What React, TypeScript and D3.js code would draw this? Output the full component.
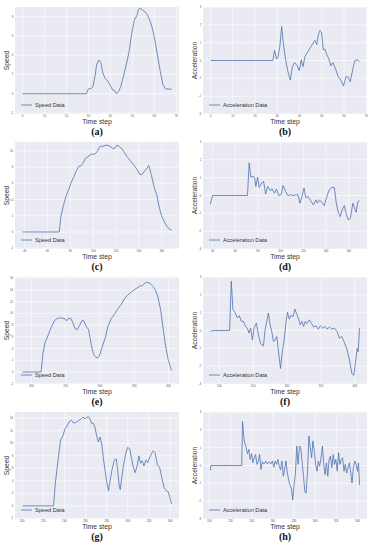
import React from "react";
import * as d3 from "d3";

// ---------- data ----------
const aTime = [0, 29, 30, 31.4, 32, 33, 33.7, 34.7, 35.7, 36.4, 37.5, 39, 40, 41, 42, 42.8, 43.7, 44.7, 45.9, 47.4, 48.6, 49.7, 50.8, 52, 52.7, 53.5, 54.7, 55.8, 57, 58, 59.3, 60.5, 61.6, 62.7, 63.9, 65, 66.5, 67.8];
const aSpeed = [0, 0, 0.5, 0.58, 0.75, 1.8, 3.0, 3.5, 3.2, 2.3, 1.6, 1.27, 0.82, 0.4, 0.34, 0, 0.24, 0.75, 1.8, 3.2, 4.5, 6.25, 7.6, 8.1, 8.7, 8.9, 8.66, 8.5, 8.1, 7.6, 6.6, 5.2, 3.7, 2.3, 0.93, 0.52, 0.48, 0.48];

const bTime = [0, 28, 28.8, 29.7, 30.4, 31.2, 32, 32.7, 33.8, 34.8, 35.9, 36.8, 37.8, 39, 39.9, 40.8, 41.6, 42.5, 43.8, 45.3, 46.9, 47.8, 48.5, 49.2, 49.9, 50.7, 51.4, 52.3, 53.1, 54.1, 55, 56.1, 57.4, 58.6, 59.8, 60.9, 61.9, 62.8, 63.9, 64.9, 66.1, 67];
const bAccel = [0, 0, 0.57, 0.08, 0.23, 0.8, 1.9, 1.0, 0.04, -0.62, -1.1, -0.34, -0.11, -0.3, -0.57, 0.04, -0.34, 0.23, 0.5, 0.8, 1.13, 0.89, 1.45, 1.68, 1.6, 0.6, 0.64, 0.32, 0.13, -0.3, -0.11, -0.43, -0.9, -1.1, -1.43, -0.9, -0.94, -1.19, -0.53, 0, 0.04, -0.06];

const cTime = [38, 70.2, 71.7, 73.8, 76.1, 78.5, 80.6, 82.7, 85, 87.4, 89.5, 91, 93.3, 95.4, 98.4, 101.3, 103.4, 105.8, 108.7, 111.7, 114.7, 117, 119.1, 120.6, 122.7, 125, 127.1, 129.5, 132.4, 135.4, 138.4, 140.7, 142.8, 144.9, 147.3, 148.7, 150.8, 153.2, 155.6, 157.6, 159.7, 162.1, 165, 168.6];
const cSpeed = [0, 0, 1.93, 3.2, 4.4, 5.2, 6.1, 6.7, 7.5, 8.1, 8.2, 8.5, 9.1, 9.3, 9.6, 9.6, 9.9, 10.55, 10.6, 10.7, 10.6, 10.3, 10.35, 10.7, 10.55, 10.3, 9.86, 9.3, 8.8, 8.3, 7.7, 7.1, 7.1, 7.5, 7.9, 8.2, 7.1, 5.6, 4.6, 3.2, 2.05, 1.3, 0.57, 0.2];

const dTime = [38.2, 40, 70.8, 72.3, 73.8, 75.6, 77, 78.2, 79.7, 81.2, 83.3, 85, 86.8, 88.6, 91, 92.4, 94.5, 96.3, 98.4, 100.4, 102.2, 104.3, 106.4, 108.7, 111.1, 113.2, 115.3, 117, 118.8, 120.6, 122.1, 124.1, 126.5, 128.9, 131, 132.4, 134.2, 136.3, 138.4, 140.7, 142.8, 144.9, 147.3, 149, 150.8, 152.6, 154.1, 156.1, 157.9, 159.7, 161.5, 163.6, 165, 166.5, 168, 169.5];
const dAccel = [-0.49, 0, 0, 1.83, 1.02, 1.08, 1.02, 0.51, 1.02, 0.45, 0.7, 0.79, 0.08, 0.51, 0.26, 0.38, 0.13, 0.36, 0, 0.04, 0.57, 0.23, 0, 0.04, 0, 0.04, 0.04, -0.43, -0.06, 0.42, -0.11, -0.06, -0.3, -0.53, -0.25, -0.43, -0.25, -0.38, -0.57, -0.06, 0.32, 0.45, 0.45, -0.43, -0.94, -1.19, -0.81, -0.57, -1.06, -1.38, -1.25, -0.43, -0.68, -0.94, -0.34, -0.3];

const eTime = [187.1, 214.3, 216.8, 220.2, 224.2, 229.1, 234, 239, 243.9, 248.8, 251.3, 253.8, 257.2, 260.2, 263.7, 267.1, 270.1, 273.6, 276, 279.5, 283.5, 285.9, 288.4, 291.8, 295.8, 299.2, 303.2, 308.1, 311.6, 316.5, 321.5, 326.4, 331.4, 336.3, 341.2, 347.7, 352.6, 357.5, 362.5, 366.4, 369.9, 373.3, 377.3, 381.2, 384.7, 388.6, 392.1, 395.6, 399.5, 402, 404.4];
const eSpeed = [0, 0, 3.1, 5.1, 6.2, 7.65, 8.8, 9.2, 9.2, 9.1, 8.7, 9.1, 9.2, 8.5, 7.4, 7.2, 7.9, 8.7, 8.8, 7.9, 7.2, 5.7, 4.0, 2.8, 2.4, 2.7, 4.25, 5.95, 7.8, 9.1, 9.9, 10.8, 11.6, 12.6, 13.2, 13.8, 14.2, 14.6, 14.8, 15.2, 15.3, 15.1, 14.6, 13.9, 12.7, 10.5, 7.4, 4.5, 2.1, 1.1, 0.3];

const fTime = [187.1, 191, 215.3, 217.8, 220.2, 223.2, 226.7, 229.6, 232.6, 235.6, 239, 241.5, 244, 246.4, 248.9, 251.4, 254.8, 257.8, 261.2, 265.2, 267.6, 270.1, 272.6, 275, 277.5, 280, 282.5, 284.9, 287.4, 290.4, 293.3, 295.8, 298.3, 300.7, 303.2, 305.7, 309.1, 311.6, 314.6, 317.1, 319.5, 322, 324.4, 326.9, 329.4, 332.8, 336.3, 339.3, 342.7, 346.2, 349.1, 352.6, 356, 359, 362.5, 365.9, 369.9, 373.8, 377.3, 380.7, 384.7, 388.6, 392.1, 395.6, 398.5, 401, 403.5, 404.9, 406.9];
const fAccel = [-0.06, 0, 0, 2.77, 1.17, 1.02, 0.7, 0.83, 0.51, 0.51, 0.23, 0.13, -0.15, 0.13, -0.53, 0.13, 0.42, -0.25, -0.75, -0.87, 0.04, 0.51, 0.98, 0.32, -0.06, -0.62, -0.53, -0.34, -1.19, -2.13, -1.09, -0.53, 0.42, 1.02, 0.64, 0.83, 0.79, 1.2, 0.89, 0.64, 0.32, 0.51, 0.23, 0.51, 0.38, 0.6, 0.38, 0.19, 0.26, 0.08, 0.26, 0.13, 0.23, 0.08, 0.19, 0.08, 0.13, -0.06, -0.43, -0.34, -0.68, -1.09, -1.66, -2.42, -2.51, -1.75, -1.0, -1.19, 0.13];

const gTime = [200.3, 229.7, 231.3, 232.9, 234.8, 236.4, 238.6, 240.5, 242.7, 244.3, 246.6, 248.8, 251.4, 253.9, 256.1, 257.7, 259.3, 260.9, 262.5, 264.1, 265.7, 267.3, 268.9, 270.5, 272.1, 273.7, 275.3, 276.9, 278.5, 280.1, 281.7, 282.6, 284.8, 287.1, 289, 290.3, 291.9, 292.8, 294.4, 296, 297.9, 299.8, 301.8, 303.3, 304.9, 306.9, 308.8, 310.4, 312, 313.6, 315.2, 317.1, 318.7, 320.6, 322.2, 324.1, 325.7, 327.9, 330.1, 332.1, 334.3, 336.5, 338.4, 340, 341.3];
const gSpeed = [0, 0, 3.4, 5.8, 8.5, 10.5, 11.2, 12.3, 12.8, 13.4, 13.7, 13.2, 13.4, 13.7, 13.9, 14.2, 13.9, 14.1, 14.3, 13.9, 13.2, 13.2, 12.5, 11.2, 10.2, 11.0, 9.9, 7.5, 5.6, 3.7, 2.4, 3.4, 5.6, 7.3, 7.5, 5.8, 3.1, 2.6, 4.8, 6.6, 8.3, 9.35, 9.1, 7.7, 6.4, 5.3, 6.4, 8.0, 6.8, 7.2, 6.4, 7.3, 6.9, 7.7, 8.3, 8.8, 8.5, 6.6, 6.1, 4.5, 2.9, 2.4, 2.2, 1.2, 0.3];

const hTime = [201, 201.3, 230.6, 231.3, 232.9, 234.4, 236, 237.3, 238.6, 239.9, 241.1, 242.4, 243.7, 245, 246.3, 247.5, 248.8, 250.1, 251.7, 253.3, 254.9, 256.5, 258.1, 259.6, 260.9, 262.2, 263.5, 264.8, 266, 267.3, 268.6, 269.9, 271.1, 272.4, 273.7, 275, 276.2, 277.5, 278.8, 280.1, 281.3, 282.6, 283.9, 285.2, 286.4, 287.7, 289, 290.3, 291.5, 292.8, 294.1, 295.4, 296.7, 297.9, 299.2, 300.5, 301.8, 303, 304.3, 305.6, 306.9, 308.1, 309.4, 310.7, 312, 313.2, 314.5, 315.8, 317.1, 318.3, 319.6, 320.9, 322.2, 323.4, 324.7, 326, 327.3, 328.5, 329.8, 331.1, 332.4, 333.7, 334.9, 336.2, 337.5, 338.8, 340.1, 341, 342];
const hAccel = [-0.28, 0, 0, 2.47, 1.38, 1.09, 0.66, 0.9, 0.34, 0.66, 0.15, 0.43, 0.62, 0.06, 0.21, 0.62, -0.23, 0.21, 0.09, 0.25, 0.09, 0.21, 0.09, 0.25, -0.09, 0.25, 0.06, 0.34, -0.04, -0.23, 0.25, -0.6, -0.23, 0.25, -0.42, -0.81, -1.09, -1.26, -1.94, -1.09, -0.51, 1.09, 0.06, 1.09, 1.0, 0.15, -0.6, -1.49, -1.55, -0.32, 1.66, 1.0, 0.43, 1.38, 0.81, 0.06, -0.32, 0.25, -0.04, 0.43, 1.09, 0.09, -0.51, 0.15, -0.6, 0.34, 0.53, -0.13, 0.62, 0.06, 0.34, -0.32, 0.72, 0.06, 0.34, 0.43, -0.32, 0.06, -0.42, -0.13, 0.15, -0.42, -0.98, -0.13, 0.25, 0.06, -0.32, 0.15, -1.09];

const ticksAB = [0, 10, 20, 30, 40, 50, 60, 70];
const ticksCD = [40, 60, 80, 100, 120, 140, 160];
const ticksEF = [200, 250, 300, 350, 400];
const ticksGH = [200, 220, 240, 260, 280, 300, 320, 340];
const speedTicksA = [-2, 0, 2, 4, 6, 8];
const speedTicksC = [-2, 0, 2, 4, 6, 8, 10];
const speedTicksE = [-2, 0, 2, 4, 6, 8, 10, 12, 14, 16];
const speedTicksG = [-2, 0, 2, 4, 6, 8, 10, 12, 14];
const accelTicks = [-3, -2, -1, 0, 1, 2, 3];
const captions = ["(a)", "(b)", "(c)", "(d)", "(e)", "(f)", "(g)", "(h)"];

// ---------- panel ----------
type PanelProps = {
  left: number; top: number; times: number[]; values: number[];
  yDomain: [number, number]; xTicks: number[]; yTicks: number[];
  ylabel: string; legend: string; caption: string;
};

const PW = 164, PH = 107;
const LINE = "#4C72B0";
const SANS = "Liberation Sans, Arial, sans-serif";

function Panel(p: PanelProps) {
  const [t0, t1] = d3.extent(p.times) as [number, number];
  const pad = (t1 - t0) * 0.05;
  const x = d3.scaleLinear().domain([t0 - pad, t1 + pad]).range([p.left, p.left + PW]);
  const y = d3.scaleLinear().domain(p.yDomain).range([p.top + PH, p.top]);
  const pts = p.times.map((t, i) => [t, p.values[i]] as [number, number]);
  const path = d3.line<[number, number]>().x(d => x(d[0])).y(d => y(d[1]))(pts) || "";
  const bottom = p.top + PH;
  const cx = p.left + PW / 2;
  return (
    <g>
      <rect x={p.left} y={p.top} width={PW} height={PH} fill="#EAEAF2" />
      {p.xTicks.map(t => (
        <line key={"gx" + t} x1={x(t)} x2={x(t)} y1={p.top} y2={bottom} stroke="#fff" strokeWidth={0.6} />
      ))}
      {p.yTicks.map(t => (
        <line key={"gy" + t} x1={p.left} x2={p.left + PW} y1={y(t)} y2={y(t)} stroke="#fff" strokeWidth={0.6} />
      ))}
      {p.xTicks.map(t => (
        <text key={"tx" + t} x={x(t)} y={bottom + 3.4} fontSize={2.8} fill="#555" textAnchor="middle" fontFamily={SANS}>{t}</text>
      ))}
      {p.yTicks.map(t => (
        <text key={"ty" + t} x={p.left - 1.8} y={y(t) + 1} fontSize={2.8} fill="#555" textAnchor="end" fontFamily={SANS}>{t}</text>
      ))}
      <path d={path} fill="none" stroke={LINE} strokeWidth={0.8} strokeLinejoin="round" />
      <line x1={p.left + 6} x2={p.left + 17} y1={bottom - 9} y2={bottom - 9} stroke={LINE} strokeWidth={0.8} />
      <text x={p.left + 20} y={bottom - 7} fontSize={5.6} fill="#333" fontFamily={SANS}>{p.legend}</text>
      <text x={cx} y={bottom + 9.5} fontSize={6.8} fill="#333" textAnchor="middle" fontFamily={SANS}>Time step</text>
      <text transform={`translate(${p.left - 6},${p.top + PH / 2}) rotate(-90)`} fontSize={6.8} fill="#333" textAnchor="middle" fontFamily={SANS}>{p.ylabel}</text>
      <text x={cx} y={bottom + 20.5} fontSize={10} fontWeight="bold" fill="#111" textAnchor="middle" fontFamily="Liberation Serif, Times New Roman, serif">{p.caption}</text>
    </g>
  );
}

export default function App() {
  const L = 15, R = 203;
  const tops = [7, 142, 277, 412];
  return (
    <svg width={376} height={550} style={{ position: "absolute", left: 0, top: 0, background: "#fff" }}>
      <Panel left={L} top={tops[0]} times={aTime} values={aSpeed} yDomain={[-2.1, 9]} xTicks={ticksAB} yTicks={speedTicksA} ylabel="Speed" legend="Speed Data" caption={captions[0]} />
      <Panel left={R} top={tops[0]} times={bTime} values={bAccel} yDomain={[-3, 3]} xTicks={ticksAB} yTicks={accelTicks} ylabel="Acceleration" legend="Acceleration Data" caption={captions[1]} />
      <Panel left={L} top={tops[1]} times={cTime} values={cSpeed} yDomain={[-2.1, 11.1]} xTicks={ticksCD} yTicks={speedTicksC} ylabel="Speed" legend="Speed Data" caption={captions[2]} />
      <Panel left={R} top={tops[1]} times={dTime} values={dAccel} yDomain={[-3, 3]} xTicks={ticksCD} yTicks={accelTicks} ylabel="Acceleration" legend="Acceleration Data" caption={captions[3]} />
      <Panel left={L} top={tops[2]} times={eTime} values={eSpeed} yDomain={[-2.05, 16.2]} xTicks={ticksEF} yTicks={speedTicksE} ylabel="Speed" legend="Speed Data" caption={captions[4]} />
      <Panel left={R} top={tops[2]} times={fTime} values={fAccel} yDomain={[-3, 3]} xTicks={ticksEF} yTicks={accelTicks} ylabel="Acceleration" legend="Acceleration Data" caption={captions[5]} />
      <Panel left={L} top={tops[3]} times={gTime} values={gSpeed} yDomain={[-2.1, 15]} xTicks={ticksGH} yTicks={speedTicksG} ylabel="Speed" legend="Speed Data" caption={captions[6]} />
      <Panel left={R} top={tops[3]} times={hTime} values={hAccel} yDomain={[-3, 3]} xTicks={ticksGH} yTicks={accelTicks} ylabel="Acceleration" legend="Acceleration Data" caption={captions[7]} />
    </svg>
  );
}
